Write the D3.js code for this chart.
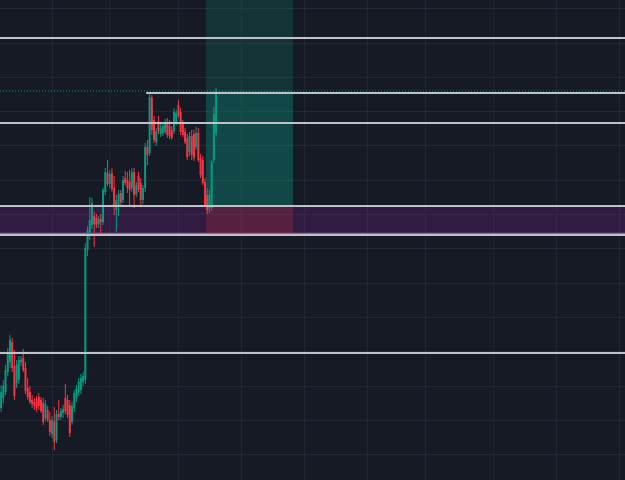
<!DOCTYPE html>
<html>
<head>
<meta charset="utf-8">
<script src="https://cdn.jsdelivr.net/npm/d3@7"></script>
<style>
html, body { margin: 0; padding: 0; background: #161a25; overflow: hidden; }
svg { display: block; }
</style>
</head>
<body>
<svg id="chart" width="625" height="480"></svg>
<script>
// OHLC per bar
const opens = [2184,2204,2216,2256,2276,2316,2268,2234,2240,2276, 2284,2264,2224,2216,2200,2196,2202,2206,2200,2194,
  2164,2180,2160,2132,2156,2120,2172,2166,2174,2204, 2200,2190,2156,2184,2204,2216,2220,2236,2240,2500,
  2530,2550,2568,2564,2552,2562,2556,2616,2654,2632, 2654,2624,2580,2588,2614,2600,2644,2640,2636,2624,
  2656,2612,2648,2634,2600,2624,2706,2694,2804,2760, 2716,2756,2732,2734,2736,2756,2748,2740,2738,2756,
  2790,2776,2752,2736,2724,2696,2728,2732,2706,2734, 2684,2680,2636,2610,2584,2584,2680,2734];
const highs = [2230,2240,2270,2304,2330,2324,2300,2280,2288,2288, 2302,2276,2244,2228,2210,2204,2208,2214,2206,2204,
  2200,2188,2176,2168,2186,2180,2200,2184,2190,2232, 2210,2200,2196,2220,2230,2244,2252,2256,2514,2548,
  2606,2604,2576,2572,2568,2572,2624,2664,2680,2660, 2664,2648,2610,2620,2620,2648,2658,2656,2660,2664,
  2664,2636,2656,2644,2630,2714,2720,2816,2810,2768, 2744,2768,2752,2756,2762,2764,2760,2748,2784,2780,
  2800,2784,2760,2744,2732,2736,2740,2740,2746,2744, 2692,2688,2644,2624,2620,2680,2786,2824];
const lows = [2176,2194,2210,2248,2264,2256,2200,2224,2232,2268, 2256,2212,2200,2192,2184,2180,2176,2180,2174,2150,
  2158,2156,2128,2124,2100,2114,2160,2160,2164,2172, 2164,2126,2150,2176,2196,2208,2212,2228,2232,2488,
  2520,2542,2506,2544,2544,2530,2550,2610,2628,2624, 2616,2570,2536,2568,2590,2594,2630,2614,2586,2616,
  2584,2606,2616,2588,2592,2616,2670,2688,2730,2714, 2708,2732,2726,2728,2732,2724,2722,2720,2732,2750,
  2764,2730,2726,2712,2680,2688,2680,2678,2700,2676, 2644,2630,2586,2572,2574,2578,2674,2728];
const closes = [2216,2228,2260,2294,2320,2264,2208,2270,2280,2280, 2260,2218,2206,2196,2192,2188,2184,2188,2178,2156,
  2192,2160,2136,2160,2116,2172,2166,2178,2182,2178, 2170,2134,2188,2214,2224,2236,2244,2248,2504,2540,
  2560,2594,2552,2550,2562,2556,2620,2656,2632,2652, 2622,2590,2600,2612,2596,2640,2634,2624,2620,2656,
  2610,2630,2620,2600,2624,2706,2690,2806,2740,2720, 2738,2738,2744,2748,2756,2730,2728,2724,2776,2774,
  2768,2736,2730,2716,2686,2728,2690,2684,2734,2680, 2650,2634,2590,2580,2610,2676,2772,2818];

// horizontal levels drawn across the chart
const levels = [2924, 2754, 2588, 2530, 2294];
const peakLevel = { price: 2814, fromBar: 65.8 };
const zone = { top: 2588, bottom: 2532 };
const position = { startBar: 92.45, endBar: 131.7, entry: 2588, target: 3040, stop: 2532 };

// grid ticks (bar index / price)
const gridBars = [23, 48.7, 79.8, 108.2, 136.7, 165.1, 191.3, 221.9, 250.4, 278.8];
const gridPrices = [2984, 2914, 2846, 2778, 2710, 2640, 2572, 2504, 2434, 2366, 2298, 2228, 2160, 2092];

const width = 625, height = 480;
const upColor = "#089981", downColor = "#f23645";

const svg = d3.select("#chart");
svg.append("rect").attr("width", width).attr("height", height).attr("fill", "#161a25");

const x = d3.scaleLinear().domain([-0.5, 281.5]).range([0, width]);
const y = d3.scaleLinear().domain([2040, 3000]).range([height, 0]);
const step = x(1) - x(0);

const bars = d3.range(opens.length).map(i => ({
    i, o: opens[i], h: highs[i], l: lows[i], c: closes[i]
}));
const lastClose = closes[closes.length - 1];

// grid
const gx = svg.append("g")
    .call(d3.axisBottom(x).tickValues(gridBars).tickSize(height).tickFormat(""));
const gy = svg.append("g")
    .call(d3.axisRight(y).tickValues(gridPrices).tickSize(width).tickFormat(""));
[gx, gy].forEach(g => {
    g.select(".domain").remove();
    g.selectAll("line").attr("stroke", "#232733").attr("stroke-width", 1);
});

// purple zone
svg.append("rect")
    .attr("x", 0).attr("width", width)
    .attr("y", y(zone.top)).attr("height", y(zone.bottom) - y(zone.top))
    .attr("fill", "#9c27b0").attr("fill-opacity", 0.2);
svg.append("line")
    .attr("x1", 0).attr("x2", width)
    .attr("y1", y(zone.bottom) - 0.5).attr("y2", y(zone.bottom) - 0.5)
    .attr("stroke", "#a44fc4").attr("stroke-width", 1.5);

// long position box
const px0 = x(position.startBar), px1 = x(position.endBar);
svg.append("rect")
    .attr("x", px0).attr("width", px1 - px0)
    .attr("y", y(position.target)).attr("height", y(position.entry) - y(position.target))
    .attr("fill", upColor).attr("fill-opacity", 0.2);
svg.append("rect")
    .attr("x", px0).attr("width", px1 - px0)
    .attr("y", y(lastClose)).attr("height", y(position.entry) - y(lastClose))
    .attr("fill", upColor).attr("fill-opacity", 0.2);
svg.append("rect")
    .attr("x", px0).attr("width", px1 - px0)
    .attr("y", y(position.entry)).attr("height", y(position.stop) - y(position.entry))
    .attr("fill", downColor).attr("fill-opacity", 0.2);

// candles
const bodyW = step * 0.9;
const candle = svg.append("g").selectAll("g").data(bars).join("g")
    .attr("fill", d => d.c >= d.o ? upColor : downColor)
    .attr("stroke", d => d.c >= d.o ? upColor : downColor);
candle.append("line")
    .attr("x1", d => x(d.i)).attr("x2", d => x(d.i))
    .attr("y1", d => y(d.h)).attr("y2", d => y(d.l))
    .attr("stroke-width", 1);
candle.append("rect")
    .attr("stroke", "none")
    .attr("x", d => x(d.i) - bodyW / 2)
    .attr("width", bodyW)
    .attr("y", d => y(Math.max(d.o, d.c)))
    .attr("height", d => Math.max(1, Math.abs(y(d.o) - y(d.c))));

// level lines
svg.append("g").selectAll("line").data(levels).join("line")
    .attr("x1", 0).attr("x2", width)
    .attr("y1", d => y(d)).attr("y2", d => y(d))
    .attr("stroke", "#bfc1c7").attr("stroke-width", 2);
svg.append("line")
    .attr("x1", x(peakLevel.fromBar)).attr("x2", width)
    .attr("y1", y(peakLevel.price)).attr("y2", y(peakLevel.price))
    .attr("stroke", "#bfc1c7").attr("stroke-width", 2)
    .attr("stroke-linecap", "round");

// last price line
svg.append("line")
    .attr("x1", 0).attr("x2", width)
    .attr("y1", y(lastClose)).attr("y2", y(lastClose))
    .attr("stroke", upColor).attr("stroke-width", 1)
    .attr("stroke-dasharray", "1,2");
</script>
</body>
</html>
